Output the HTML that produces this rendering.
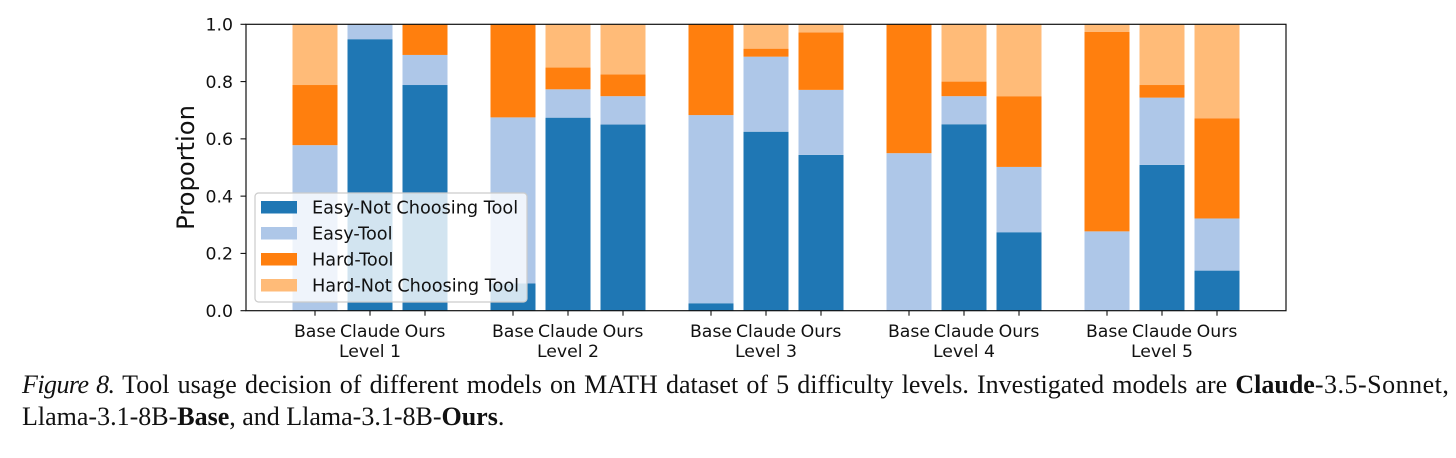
<!DOCTYPE html>
<html lang="en">
<head>
<meta charset="utf-8">
<title>Tool usage decision chart</title>
<style>
html,body{margin:0;padding:0;background:#fff;width:1456px;height:458px;overflow:hidden}
svg{display:block;position:absolute;left:0;top:0}
.tick{font-family:"DejaVu Sans",sans-serif;font-size:17.3px;fill:#111}
.leg{font-family:"DejaVu Sans",sans-serif;font-size:17.7px;fill:#111}
.cap{font-family:"Liberation Serif",serif;font-size:26px;fill:#111}
</style>
</head>
<body>
<svg id="chart" xmlns="http://www.w3.org/2000/svg" width="1456" height="458" viewBox="0 0 1456 458">
  <text class="cap" x="22" y="393" word-spacing="1.65"><tspan font-style="italic" letter-spacing="-0.55">Figure 8.</tspan> Tool usage decision of different models on MATH dataset of 5 difficulty levels. Investigated models are <tspan font-weight="bold">Claude</tspan><tspan letter-spacing="0.5">-3.5-Sonnet,</tspan></text>
  <text class="cap" x="22" y="425">Llama-3.1-8B-<tspan font-weight="bold">Base</tspan>, and Llama-3.1-8B-<tspan font-weight="bold">Ours</tspan>.</text>
</svg>
<script>
const levels = ['Level 1', 'Level 2', 'Level 3', 'Level 4', 'Level 5'];
const models = ['Base', 'Claude', 'Ours'];
const yTicks = [0, 0.2, 0.4, 0.6, 0.8, 1];
const seriesNames = ['Easy-Not Choosing Tool', 'Easy-Tool', 'Hard-Tool', 'Hard-Not Choosing Tool'];
const seriesColors = ['#1f77b4', '#aec7e8', '#ff7f0e', '#ffbb78'];
const easyNotChoosingTool = [0, 0.948, 0.788, 0.095, 0.674, 0.65, 0.026, 0.625, 0.544, 0, 0.651, 0.274, 0, 0.509, 0.14];
const easyTool = [0.578, 0.052, 0.105, 0.58, 0.099, 0.099, 0.657, 0.262, 0.227, 0.55, 0.098, 0.228, 0.277, 0.235, 0.182];
const hardTool = [0.21, 0, 0.107, 0.325, 0.076, 0.076, 0.317, 0.028, 0.201, 0.45, 0.051, 0.247, 0.697, 0.044, 0.35];
const hardNotChoosingTool = [0.212, 0, 0, 0, 0.151, 0.175, 0, 0.085, 0.028, 0, 0.2, 0.251, 0.026, 0.212, 0.328];
const seriesValues = [easyNotChoosingTool, easyTool, hardTool, hardNotChoosingTool];

const svg = document.getElementById('chart');
const NS = 'http://www.w3.org/2000/svg';
const plot = {left: 246, right: 1286, top: 24.3, bottom: 310.7};
const yScale = v => plot.bottom - v * (plot.bottom - plot.top);
const xScale = (group, model) => 315 + group * 198 + model * 55;
const barWidth = 45;

function make(tag, attrs, text) {
  const el = document.createElementNS(NS, tag);
  for (const k in attrs) el.setAttribute(k, attrs[k]);
  if (text !== undefined) el.textContent = text;
  svg.appendChild(el);
  return el;
}

// Bars
levels.forEach((level, g) => {
  models.forEach((model, m) => {
    let base = 0;
    seriesValues.forEach((vals, s) => {
      const v = vals[g * models.length + m];
      if (v > 0) {
        const bar = make('rect', {x: xScale(g, m) - barWidth / 2, y: yScale(base + v), width: barWidth, height: yScale(base) - yScale(base + v), fill: seriesColors[s]});
        
        
      }
      base += v;
    });
    // x tick and label
    const tick = make('line', {x1: xScale(g, m), x2: xScale(g, m), y1: plot.bottom, y2: plot.bottom + 5, stroke: '#111', 'stroke-width': 1.1});
    
    
    const lab = make('text', {x: xScale(g, m), y: 337, 'text-anchor': 'middle', class: 'tick'}, model);
    
    
  });
  const groupLab = make('text', {x: xScale(g, 1), y: 357, 'text-anchor': 'middle', class: 'tick'}, level);
  
  
});

// Axes frame
const frame = make('rect', {x: plot.left, y: plot.top, width: plot.right - plot.left, height: plot.bottom - plot.top, fill: 'none', stroke: '#111', 'stroke-width': 1.2});



// Y ticks
yTicks.forEach(t => {
  const tick = make('line', {x1: plot.left - 5.5, x2: plot.left, y1: yScale(t), y2: yScale(t), stroke: '#111', 'stroke-width': 1.1});
  
  
  const lab = make('text', {x: 233, y: yScale(t) + 6.3, 'text-anchor': 'end', class: 'tick'}, t.toFixed(1));
  
  
});

// Y axis title
const yTitle = make('text', {transform: 'translate(194 167.5) rotate(-90)', 'text-anchor': 'middle', 'font-family': '"DejaVu Sans",sans-serif', 'font-size': 24.2, fill: '#111'}, 'Proportion');



// Legend
const legendBox = make('rect', {x: 255, y: 193, width: 272, height: 109, rx: 3.5, fill: '#fff', 'fill-opacity': 0.8, stroke: '#ccc', 'stroke-width': 1.2});


seriesNames.forEach((name, i) => {
  const y = 201 + i * 26;
  const sw = make('rect', {x: 261, y: y, width: 36, height: 12.5, fill: seriesColors[i]});
  
  
  const lab = make('text', {x: 312, y: y + 12.7, class: 'leg'}, name);
  
  
});
</script>
</body>
</html>
